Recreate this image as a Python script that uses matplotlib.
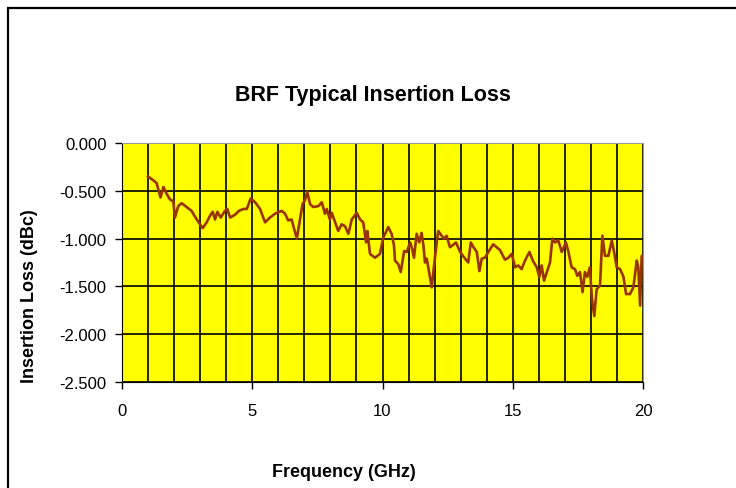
import matplotlib
matplotlib.use("Agg")
import matplotlib.pyplot as plt
from matplotlib.patches import Rectangle
from matplotlib.ticker import MultipleLocator

plt.rcParams['font.family'] = ['Liberation Sans', 'DejaVu Sans']

# frequency in GHz, insertion loss in dB
freq = [1.00, 1.20, 1.33, 1.48, 1.59, 1.71, 1.84, 1.97, 2.03, 2.16, 2.29, 2.48,
        2.67, 2.80, 2.99, 3.10, 3.25, 3.38, 3.48, 3.57, 3.66, 3.79, 3.95, 4.04,
        4.15, 4.34, 4.49, 4.66, 4.79, 4.94, 5.11, 5.30, 5.49, 5.68, 5.87, 6.13,
        6.26, 6.38, 6.51, 6.64, 6.71, 6.83, 6.93, 7.02, 7.11, 7.22, 7.34, 7.54,
        7.67, 7.79, 7.86, 7.98, 8.05, 8.18, 8.30, 8.43, 8.56, 8.69, 8.82, 9.01,
        9.14, 9.26, 9.37, 9.42, 9.52, 9.71, 9.90, 10.03, 10.22, 10.35, 10.44, 10.48,
        10.61, 10.70, 10.83, 10.93, 11.06, 11.12, 11.21, 11.31, 11.41, 11.50, 11.57, 11.63,
        11.70, 11.80, 11.89, 11.98, 12.08, 12.14, 12.27, 12.36, 12.46, 12.59, 12.69, 12.82,
        12.98, 13.17, 13.29, 13.39, 13.49, 13.62, 13.72, 13.81, 13.93, 14.13, 14.25, 14.38,
        14.51, 14.70, 14.83, 14.96, 15.09, 15.21, 15.34, 15.47, 15.64, 15.77, 15.92, 16.02,
        16.11, 16.20, 16.31, 16.43, 16.52, 16.62, 16.75, 16.88, 17.04, 17.13, 17.26, 17.39,
        17.48, 17.58, 17.68, 17.77, 17.86, 17.96, 18.04, 18.13, 18.22, 18.35, 18.44, 18.54,
        18.67, 18.80, 18.89, 18.99, 19.12, 19.25, 19.35, 19.50, 19.63, 19.76, 19.82, 19.89,
        19.95, 20.00]
loss = [-0.35, -0.39, -0.42, -0.57, -0.46, -0.53, -0.59, -0.61, -0.78, -0.66, -0.63, -0.67,
        -0.71, -0.77, -0.85, -0.89, -0.83, -0.76, -0.72, -0.80, -0.72, -0.78, -0.71, -0.69,
        -0.78, -0.75, -0.71, -0.69, -0.69, -0.58, -0.62, -0.69, -0.83, -0.78, -0.74, -0.71,
        -0.74, -0.81, -0.80, -0.93, -1.00, -0.80, -0.64, -0.60, -0.51, -0.64, -0.67, -0.66,
        -0.62, -0.74, -0.69, -0.80, -0.73, -0.83, -0.92, -0.85, -0.87, -0.95, -0.80, -0.73,
        -0.80, -0.83, -1.04, -0.92, -1.16, -1.20, -1.16, -0.99, -0.88, -0.95, -1.07, -1.23,
        -1.27, -1.35, -1.13, -1.14, -1.04, -1.09, -1.20, -0.95, -1.04, -0.94, -1.07, -1.25,
        -1.21, -1.37, -1.51, -1.28, -1.04, -0.92, -0.97, -1.00, -0.97, -1.09, -1.07, -1.04,
        -1.14, -1.21, -1.25, -1.04, -1.09, -1.14, -1.34, -1.21, -1.20, -1.11, -1.06, -1.09,
        -1.12, -1.22, -1.20, -1.16, -1.30, -1.28, -1.32, -1.23, -1.14, -1.23, -1.30, -1.40,
        -1.28, -1.44, -1.35, -1.25, -1.00, -1.04, -1.02, -1.14, -1.04, -1.13, -1.30, -1.32,
        -1.39, -1.35, -1.56, -1.35, -1.40, -1.30, -1.63, -1.81, -1.53, -1.49, -0.97, -1.18,
        -1.18, -1.02, -1.14, -1.30, -1.32, -1.40, -1.58, -1.58, -1.51, -1.23, -1.30, -1.70,
        -1.18, -1.18]

xticks = [0, 5, 10, 15, 20]
yticks = [0.0, -0.5, -1.0, -1.5, -2.0, -2.5]

fig = plt.figure(figsize=(7.36, 4.89), dpi=100)
ax = fig.add_axes([122/736, 1-383/489, 521/736, 239/489])

# chart frame (only top and left edges visible in the crop)
fig.patches.append(Rectangle((8/736, -0.1), 1.2, 1.1 - 9/489, transform=fig.transFigure,
                             fill=False, edgecolor='black', linewidth=1.6))

ax.set_facecolor('#ffff00')
ax.plot(freq, loss, color='#993300', linewidth=1.9)

ax.set_xlim(0, 20)
ax.set_ylim(-2.5, 0)
ax.set_xticks(xticks)
ax.set_xticklabels([str(v) for v in xticks])
ax.set_yticks(yticks)
ax.set_yticklabels(['%.3f' % v for v in yticks])
ax.xaxis.set_minor_locator(MultipleLocator(1))
ax.tick_params(axis='x', which='minor', length=0)
ax.tick_params(axis='both', which='major', length=5, width=1, direction='out',
               labelsize=12, pad=6)
ax.tick_params(axis='x', which='major', pad=10)
ax.grid(True, which='both', axis='x', color='black', linewidth=1.2)
ax.grid(True, which='major', axis='y', color='black', linewidth=1.2)
ax.set_axisbelow(True)

ax.spines['top'].set_color('#999999')
ax.spines['right'].set_color('#999999')
ax.spines['left'].set_color('black')
ax.spines['bottom'].set_color('black')

fig.text(373/736, 1-96/489, 'BRF Typical Insertion Loss', ha='center', va='center',
         fontsize=15.5, fontweight='bold')
fig.text(344/736, 1-473/489, 'Frequency (GHz)', ha='center', va='center',
         fontsize=13, fontweight='bold')
fig.text(30/736, 1-296/489, 'Insertion Loss (dBc)', ha='center', va='center',
         rotation=90, fontsize=13, fontweight='bold')

fig.savefig('out.png', dpi=100)
